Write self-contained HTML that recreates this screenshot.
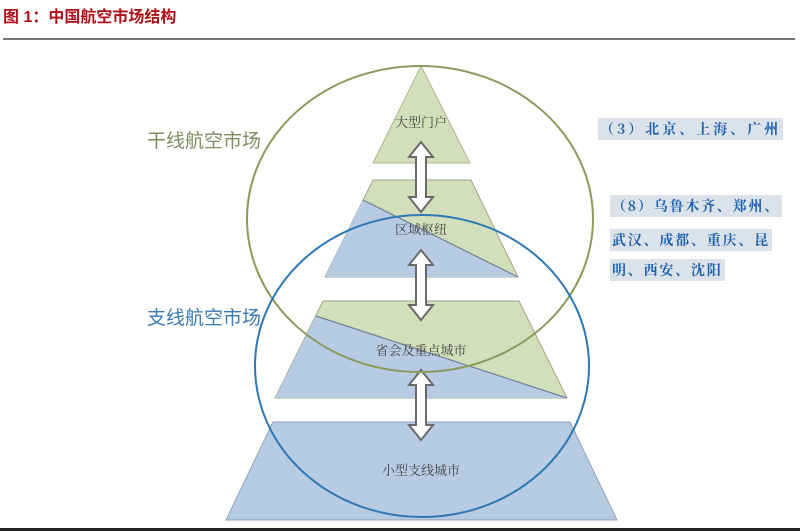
<!DOCTYPE html>
<html><head><meta charset="utf-8"><style>
html,body{margin:0;padding:0;background:#fff;}
body{width:800px;height:532px;overflow:hidden;position:relative;font-family:"Liberation Sans","Noto Sans CJK SC",sans-serif;}
.t{position:absolute;left:3px;top:3px;font-size:16px;font-weight:bold;color:#b0101a;}
.hl{position:absolute;left:3px;top:38px;width:792px;height:2px;background:#777;}
.bl{position:absolute;left:0;top:528px;width:800px;height:3px;background:#222;}
.lab{position:absolute;font-size:19px;}
.bx{position:absolute;background:#dce2ea;color:#1e63b0;font-weight:bold;font-size:14px;font-family:"Noto Serif CJK SC","Noto Sans CJK SC",serif;line-height:22px;padding:0 2px;letter-spacing:1.8px;}
</style></head><body>
<div class="t">图 1：中国航空市场结构</div>
<div class="hl"></div>
<svg width="800" height="532" style="position:absolute;left:0;top:0">
<defs><g id="arr"><path d="M0,-35 L12,-20 L5,-20 L5,20 L12,20 L0,35 L-12,20 L-5,20 L-5,-20 L-12,-20 Z" fill="#fff" stroke="#6a6a6a" stroke-width="2"/></g></defs>
<polygon points="421,66 470,163 373,163" fill="#d3dfbb" stroke="#a9b792" stroke-width="1"/>
<polygon points="373,180 471,180 518,277 325,277" fill="#d3dfbb" stroke="#9aa68c"/>
<polygon points="363,200 518,277 325,277" fill="#b7cbe3"/>
<line x1="363" y1="200" x2="518" y2="277" stroke="#6f8399" stroke-width="1.2"/>
<polygon points="323,301 519,301 567,398 275,398" fill="#d3dfbb" stroke="#9aa68c"/>
<polygon points="316,316 567,398 275,398" fill="#b7cbe3"/>
<line x1="316" y1="316" x2="567" y2="398" stroke="#6f8399" stroke-width="1.2"/>
<polygon points="273,422 570,422 617,520 226,520" fill="#b7cbe3" stroke="#8fa2b8"/>
<use href="#arr" transform="translate(421,177)"/>
<use href="#arr" transform="translate(421,285)"/>
<use href="#arr" transform="translate(421,405)"/>
<ellipse cx="420" cy="219" rx="173" ry="153" fill="none" stroke="#8c9a5c" stroke-width="2"/>
<ellipse cx="422" cy="366" rx="167" ry="151" fill="none" stroke="#2f78b4" stroke-width="2"/>
<g font-family="Liberation Serif,Noto Serif CJK SC,serif" font-size="13" fill="#444" text-anchor="middle">
<text x="421" y="127">大型门户</text>
<text x="421" y="234">区域枢纽</text>
<text x="421" y="355">省会及重点城市</text>
<text x="421" y="475">小型支线城市</text>
</g>
</svg>
<div class="lab" style="left:147px;top:126px;color:#7d8d60">干线航空市场</div>
<div class="lab" style="left:147px;top:303px;color:#3a7ab4">支线航空市场</div>
<div class="bx" style="left:598px;top:118px;letter-spacing:3px">（3）北京、上海、广州</div>
<div class="bx" style="left:610px;top:195px">（8）乌鲁木齐、郑州、</div>
<div class="bx" style="left:610px;top:229px">武汉、成都、重庆、昆</div>
<div class="bx" style="left:610px;top:259px">明、西安、沈阳</div>
<div class="bl"></div>
</body></html>
